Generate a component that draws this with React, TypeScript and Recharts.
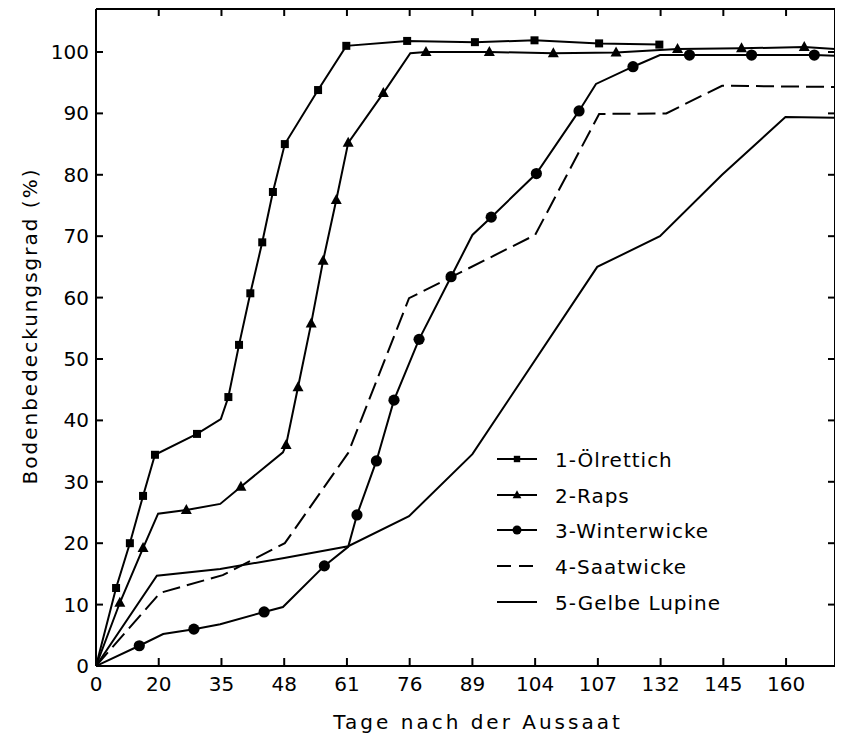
import React from 'react';
import { LineChart, Line, XAxis, YAxis, Legend } from 'recharts';

// x positions are in tick-slot units (the day axis is drawn with equally spaced labels)
const xTickLabels = ['0', '20', '35', '48', '61', '76', '89', '104', '107', '132', '145', '160'];
const xTickSlots = [0, 1, 2, 3, 4, 5, 6, 7, 8, 9, 10, 11];
const yTicks = [0, 10, 20, 30, 40, 50, 60, 70, 80, 90, 100];

type P = { x: number; y: number; m?: boolean };

const oelrettich: P[] = [
  { x: 0, y: 0 },
  { x: 0.32, y: 12.7, m: true },
  { x: 0.54, y: 20, m: true },
  { x: 0.75, y: 27.7, m: true },
  { x: 0.94, y: 34.4, m: true },
  { x: 1.61, y: 37.8, m: true },
  { x: 1.99, y: 40.2 },
  { x: 2.11, y: 43.8, m: true },
  { x: 2.28, y: 52.3, m: true },
  { x: 2.46, y: 60.7, m: true },
  { x: 2.65, y: 69, m: true },
  { x: 2.82, y: 77.2, m: true },
  { x: 3.01, y: 85, m: true },
  { x: 3.54, y: 93.8, m: true },
  { x: 3.99, y: 101, m: true },
  { x: 4.96, y: 101.8, m: true },
  { x: 6.04, y: 101.6, m: true },
  { x: 6.99, y: 101.9, m: true },
  { x: 8.02, y: 101.4, m: true },
  { x: 8.98, y: 101.2, m: true },
];

const raps: P[] = [
  { x: 0, y: 0 },
  { x: 0.38, y: 10.3, m: true },
  { x: 0.75, y: 19.2, m: true },
  { x: 0.99, y: 24.8 },
  { x: 1.44, y: 25.4, m: true },
  { x: 1.98, y: 26.4 },
  { x: 2.31, y: 29.2, m: true },
  { x: 2.98, y: 34.8 },
  { x: 3.03, y: 36, m: true },
  { x: 3.22, y: 45.4, m: true },
  { x: 3.43, y: 55.8, m: true },
  { x: 3.62, y: 66, m: true },
  { x: 3.83, y: 75.9, m: true },
  { x: 4.02, y: 85.2, m: true },
  { x: 4.58, y: 93.3, m: true },
  { x: 5.01, y: 99.8 },
  { x: 5.26, y: 100, m: true },
  { x: 6.27, y: 100, m: true },
  { x: 7.29, y: 99.8, m: true },
  { x: 8.29, y: 99.9, m: true },
  { x: 9.27, y: 100.5, m: true },
  { x: 10.29, y: 100.6, m: true },
  { x: 11.29, y: 100.8, m: true },
  { x: 11.78, y: 100.5 },
];

const winterwicke: P[] = [
  { x: 0, y: 0 },
  { x: 0.69, y: 3.3, m: true },
  { x: 1.07, y: 5.2 },
  { x: 1.56, y: 6.0, m: true },
  { x: 1.98, y: 6.8 },
  { x: 2.68, y: 8.8, m: true },
  { x: 2.98, y: 9.6 },
  { x: 3.64, y: 16.3, m: true },
  { x: 4.02, y: 19.4 },
  { x: 4.16, y: 24.6, m: true },
  { x: 4.47, y: 33.4, m: true },
  { x: 4.75, y: 43.3, m: true },
  { x: 5.15, y: 53.2, m: true },
  { x: 5.66, y: 63.4, m: true },
  { x: 6.0, y: 70.2 },
  { x: 6.3, y: 73.1, m: true },
  { x: 7.02, y: 80.2, m: true },
  { x: 7.7, y: 90.4, m: true },
  { x: 7.97, y: 94.8 },
  { x: 8.56, y: 97.6, m: true },
  { x: 8.99, y: 99.5 },
  { x: 9.46, y: 99.5, m: true },
  { x: 10.45, y: 99.5, m: true },
  { x: 11.45, y: 99.5, m: true },
  { x: 11.78, y: 99.4 },
];

const saatwicke: P[] = [
  { x: 0, y: 0 },
  { x: 1.02, y: 11.9 },
  { x: 2.02, y: 14.8 },
  { x: 3.01, y: 20 },
  { x: 4.02, y: 34.7 },
  { x: 4.99, y: 59.9 },
  { x: 7.0, y: 70.2 },
  { x: 8.02, y: 89.9 },
  { x: 9.09, y: 90.0 },
  { x: 9.98, y: 94.5 },
  { x: 11.78, y: 94.3 },
];

const gelbeLupine: P[] = [
  { x: 0, y: 0 },
  { x: 0.97, y: 14.7 },
  { x: 1.98, y: 15.8 },
  { x: 3.0, y: 17.6 },
  { x: 4.02, y: 19.5 },
  { x: 4.99, y: 24.4 },
  { x: 6.0, y: 34.5 },
  { x: 7.99, y: 65 },
  { x: 8.99, y: 70 },
  { x: 9.98, y: 80 },
  { x: 10.99, y: 89.4 },
  { x: 11.78, y: 89.3 },
];

const legendNames = ['1-Ölrettich', '2-Raps', '3-Winterwicke', '4-Saatwicke', '5-Gelbe Lupine'];

const FONT = "'DejaVu Sans', sans-serif";
const X_MAX = 11.78;
const Y_MAX = 107;

type Shape = 'square' | 'triangle' | 'circle' | 'none';

function marker(shape: Shape, cx: number, cy: number, k: string | number, scale = 1) {
  if (shape === 'square') {
    const s = 8 * scale;
    return <rect key={k} x={cx - s / 2} y={cy - s / 2} width={s} height={s} fill="#000" />;
  }
  if (shape === 'triangle') {
    const w = 11 * scale;
    const h = 10 * scale;
    return (
      <polygon
        key={k}
        points={`${cx},${cy - h * 0.6} ${cx - w / 2},${cy + h * 0.4} ${cx + w / 2},${cy + h * 0.4}`}
        fill="#000"
      />
    );
  }
  if (shape === 'circle') {
    return <circle key={k} cx={cx} cy={cy} r={5.6 * scale} fill="#000" />;
  }
  return <g key={k} />;
}

const makeDot = (shape: Shape) => (props: any) => {
  const { cx, cy, payload, index } = props;
  if (!payload || !payload.m || cx == null || cy == null) return <g key={`d${index}`} />;
  return marker(shape, cx, cy, `d${index}`);
};

const legendShapes: Shape[] = ['square', 'triangle', 'circle', 'none', 'none'];
const legendDash = [undefined, undefined, undefined, '14 8', undefined];

const LegendBox = () => (
  <svg width={300} height={185} style={{ display: 'block', overflow: 'visible' }}>
    {legendNames.map((name, i) => {
      const cy = [18, 54, 89, 125, 161][i];
      return (
        <g key={name}>
          <line x1={0} x2={40} y1={cy} y2={cy} stroke="#000" strokeWidth={2} strokeDasharray={legendDash[i]} />
          {marker(legendShapes[i], 20, cy, 'm' + i, 0.8)}
          <text
            x={58}
            y={cy + 7.5}
            fontFamily={FONT}
            fontSize={20}
            letterSpacing={1}
            fill="#000"
          >
            {name}
          </text>
        </g>
      );
    })}
  </svg>
);

const tickStyle = { fill: '#000', fontSize: 20, fontFamily: FONT };
const axisStroke = { stroke: '#000', strokeWidth: 2 };
const NoLabel = () => <g />;

export default function App() {
  return (
    <div style={{ position: 'relative', width: 835, height: 726 }}>
      <LineChart
        width={835}
        height={726}
        margin={{ top: 1, right: 8, bottom: 0, left: 0 }}
        style={{ fontFamily: FONT }}
      >
        <XAxis
          xAxisId="bottom"
          dataKey="x"
          type="number"
          domain={[0, X_MAX]}
          allowDataOverflow
          ticks={xTickSlots}
          tickFormatter={(v: number) => xTickLabels[Math.round(v)] ?? ''}
          interval={0}
          height={68}
          tickSize={0}
          tickMargin={11}
          axisLine={axisStroke}
          tickLine={false}
          tick={tickStyle}
          label={{
            content: () => (
              <text
                x={470}
                y={721}
                textAnchor="middle"
                fontFamily={FONT}
                fontSize={20}
                letterSpacing={3}
                fill="#000"
              >
                Tage nach der Aussaat
              </text>
            ),
          }}
        />
        <XAxis
          xAxisId="bottomTicks"
          dataKey="x"
          orientation="bottom"
          mirror
          type="number"
          domain={[0, X_MAX]}
          allowDataOverflow
          ticks={xTickSlots}
          interval={0}
          height={1}
          tickSize={8}
          tick={<NoLabel />}
          axisLine={false}
          tickLine={axisStroke}
        />
        <XAxis
          xAxisId="top"
          dataKey="x"
          orientation="top"
          mirror
          type="number"
          domain={[0, X_MAX]}
          allowDataOverflow
          ticks={xTickSlots}
          interval={0}
          height={1}
          tickSize={7}
          tick={<NoLabel />}
          axisLine={axisStroke}
          tickLine={axisStroke}
        />
        <YAxis
          yAxisId="left"
          type="number"
          domain={[0, Y_MAX]}
          allowDataOverflow
          ticks={yTicks}
          interval={0}
          width={88}
          tickSize={0}
          tickMargin={7}
          axisLine={axisStroke}
          tickLine={false}
          tick={tickStyle}
          label={{
            content: () => (
              <text
                x={22}
                y={318}
                transform="rotate(-90 22 318)"
                textAnchor="middle"
                dominantBaseline="central"
                fontFamily={FONT}
                fontSize={20}
                letterSpacing={2}
                fill="#000"
              >
                Bodenbedeckungsgrad (%)
              </text>
            ),
          }}
        />
        <YAxis
          yAxisId="leftTicks"
          orientation="left"
          mirror
          type="number"
          domain={[0, Y_MAX]}
          allowDataOverflow
          ticks={yTicks}
          interval={0}
          width={1}
          tickSize={7}
          tick={<NoLabel />}
          axisLine={false}
          tickLine={axisStroke}
        />
        <YAxis
          yAxisId="right"
          orientation="right"
          mirror
          type="number"
          domain={[0, Y_MAX]}
          allowDataOverflow
          ticks={yTicks}
          interval={0}
          width={1}
          tickSize={7}
          tick={<NoLabel />}
          axisLine={axisStroke}
          tickLine={axisStroke}
        />
        <Legend
          layout="vertical"
          align="center"
          verticalAlign="middle"
          content={() => <LegendBox />}
          wrapperStyle={{ position: 'absolute', left: 489, top: 433, width: 300, height: 185 }}
        />
        {/* invisible carriers so the frame axes (top/right and inner tick marks) get scales */}
        <Line
          xAxisId="top"
          yAxisId="right"
          data={gelbeLupine}
          dataKey="y"
          stroke="none"
          dot={false}
          activeDot={false}
          legendType="none"
          isAnimationActive={false}
        />
        <Line
          xAxisId="bottomTicks"
          yAxisId="leftTicks"
          data={gelbeLupine}
          dataKey="y"
          stroke="none"
          dot={false}
          activeDot={false}
          legendType="none"
          isAnimationActive={false}
        />
        <Line
          xAxisId="bottom"
          yAxisId="left"
          data={gelbeLupine}
          dataKey="y"
          type="linear"
          stroke="#000"
          strokeWidth={2}
          dot={false}
          activeDot={false}
          isAnimationActive={false}
          name={legendNames[4]}
        />
        <Line
          xAxisId="bottom"
          yAxisId="left"
          data={saatwicke}
          dataKey="y"
          type="linear"
          stroke="#000"
          strokeWidth={2}
          strokeDasharray="18 7"
          dot={false}
          activeDot={false}
          isAnimationActive={false}
          name={legendNames[3]}
        />
        <Line
          xAxisId="bottom"
          yAxisId="left"
          data={winterwicke}
          dataKey="y"
          type="linear"
          stroke="#000"
          strokeWidth={2}
          dot={makeDot('circle')}
          activeDot={false}
          isAnimationActive={false}
          name={legendNames[2]}
        />
        <Line
          xAxisId="bottom"
          yAxisId="left"
          data={raps}
          dataKey="y"
          type="linear"
          stroke="#000"
          strokeWidth={2}
          dot={makeDot('triangle')}
          activeDot={false}
          isAnimationActive={false}
          name={legendNames[1]}
        />
        <Line
          xAxisId="bottom"
          yAxisId="left"
          data={oelrettich}
          dataKey="y"
          type="linear"
          stroke="#000"
          strokeWidth={2}
          dot={makeDot('square')}
          activeDot={false}
          isAnimationActive={false}
          name={legendNames[0]}
        />
      </LineChart>
    </div>
  );
}
